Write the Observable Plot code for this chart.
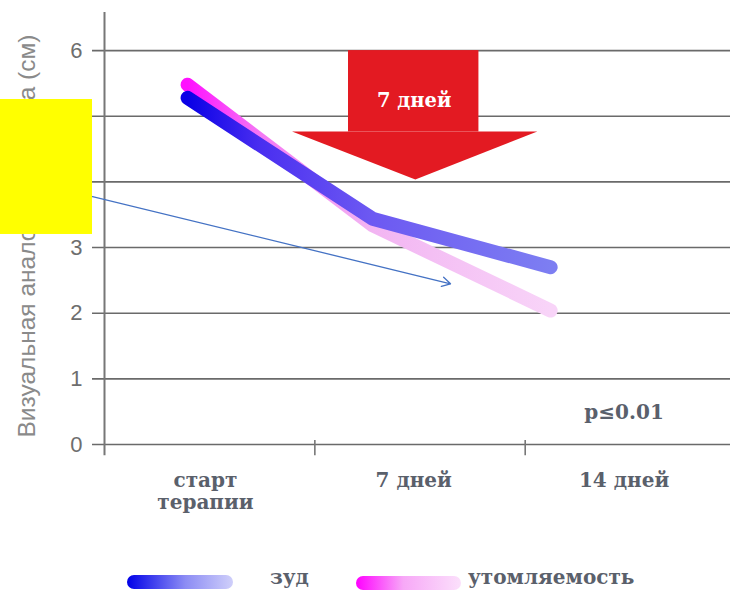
<!DOCTYPE html>
<html><head><meta charset="utf-8">
<script src="https://cdn.jsdelivr.net/npm/d3@7"></script>
<script src="https://cdn.jsdelivr.net/npm/@observablehq/plot@0.6"></script>
<style>
body{margin:0;background:#fff;}
#wrap{position:relative;width:730px;height:593px;overflow:hidden;}
.leg{position:absolute;font-family:"DejaVu Serif",serif;font-size:20px;font-weight:bold;color:#5a606b;}
.pill{position:absolute;height:14px;border-radius:7px;}
</style>
</head><body>
<div id="wrap"></div>
<script>
// ---- data ----
const categories = ["старт\nтерапии", "7 дней", "14 дней"];
const categoryX = [0.48, 1.47, 2.47];
const timeX = [0.395, 1.274, 2.121];
const itch = [5.28, 3.44, 2.70];      // зуд
const fatigue = [5.48, 3.34, 2.04];   // утомляемость
const yTicks = [0, 1, 2, 3, 4, 5, 6];
const xTicks = [0, 1, 2];
const yLabel = "Визуальная аналоговая шкала (см)";
const arrowLabel = "7 дней";
const pLabel = "p≤0.01";
const legendNames = ["зуд", "утомляемость"];
// red arrow shape (data units)
const arrowBodyX = [1.16, 1.78], arrowBodyY = [4.76, 6.0];
const arrowHeadX = [0.894, 1.48, 2.06], arrowHeadY = [4.76, 4.03, 4.76];
// annotation arrow & box
const noteArrow = {x1: -0.257, y1: 3.933, x2: 1.645, y2: 2.448};
const noteBox = {x1: -0.4945, x2: -0.057, y1: 3.199, y2: 5.255};

const itchData = timeX.map((x, i) => ({x, y: itch[i]}));
const fatigueData = timeX.map((x, i) => ({x, y: fatigue[i]}));
const headData = arrowHeadX.map((x, i) => ({x, y1: arrowHeadY[i], y2: arrowBodyY[0]}));
const catData = categories.map((c, i) => ({x: categoryX[i], label: c}));

const serif = "DejaVu Serif, serif";
const sans = "Liberation Sans, Arial, sans-serif";

const svg = Plot.plot({
  width: 730, height: 560,
  marginLeft: 104, marginRight: 0, marginTop: 12, marginBottom: 116,
  x: {domain: [0, 2.976], axis: null},
  y: {domain: [0, 6.58], axis: null},
  style: {background: "#fff", overflow: "visible"},
  marks: [
    Plot.ruleY(yTicks, {x1: -0.057, x2: 2.976, stroke: "#6a6a6a", strokeWidth: 1.6}),
    Plot.ruleX([0], {y1: -0.17, y2: 6.58, stroke: "#777", strokeWidth: 2}),
    Plot.ruleX(xTicks.slice(1), {y1: -0.17, y2: 0.06, stroke: "#777", strokeWidth: 1.6}),
    Plot.text(yTicks, {x: 0, y: d => d, text: d => String(d), dx: -22, textAnchor: "end", fontFamily: sans, fontSize: 22, fill: "#6e6e6e"}),
    Plot.text([yLabel], {x: -0.366, y: 0.107, rotate: -90, textAnchor: "start", fontFamily: sans, fontSize: 24.5, fill: "#8a8a8a"}),
    Plot.text(catData, {x: "x", y: 0, text: "label", lineAnchor: "top", dy: 27, fontFamily: serif, fontSize: 20, fontWeight: "bold", lineHeight: 1.1, fill: "#5a606b"}),
    Plot.text([pLabel], {x: 2.47, y: 0.49, fontFamily: serif, fontSize: 20, fontWeight: "bold", fill: "#5a606b"}),
    // red arrow
    Plot.rect([0], {x1: arrowBodyX[0], x2: arrowBodyX[1], y1: arrowBodyY[0], y2: arrowBodyY[1], fill: "#e31a22"}),
    Plot.areaY(headData, {x: "x", y1: "y1", y2: "y2", fill: "#e31a22"}),
    Plot.text([arrowLabel], {x: 1.472, y: 5.24, fontFamily: serif, fontSize: 19.5, fontWeight: "bold", fill: "#fff"}),
    // series
    Plot.line(fatigueData, {x: "x", y: "y", stroke: "url(#gPink)", strokeWidth: 14, strokeLinecap: "round", strokeLinejoin: "round"}),
    Plot.line(itchData, {x: "x", y: "y", stroke: "url(#gBlue)", strokeWidth: 14, strokeLinecap: "round", strokeLinejoin: "round"}),
    // annotation
    Plot.arrow([noteArrow], {x1: "x1", y1: "y1", x2: "x2", y2: "y2", stroke: "#4472c4", strokeWidth: 1.3, headLength: 11}),
    Plot.rect([noteBox], {x1: "x1", x2: "x2", y1: "y1", y2: "y2", fill: "#ffff00"})
  ]
});

const defs = d3.select(svg).insert("defs", ":first-child");
function grad(id, stops) {
  const g = defs.append("linearGradient").attr("id", id).attr("x1", "0").attr("x2", "1").attr("y1", "0").attr("y2", "0");
  stops.forEach(([o, c]) => g.append("stop").attr("offset", o).attr("stop-color", c));
}
grad("gBlue", [["0", "#0a00e6"], ["0.2", "#4a2ef0"], ["0.5", "#6c58f2"], ["1", "#7d7ef2"]]);
grad("gPink", [["0", "#ff10ff"], ["0.2", "#f478f4"], ["0.5", "#f2b4f2"], ["1", "#f8d4f8"]]);

const wrap = document.getElementById("wrap");
wrap.appendChild(svg);
wrap.insertAdjacentHTML("beforeend", `
  <div class="pill" style="left:127px;top:575px;width:106px;background:linear-gradient(to right,#0000e8,#8c8cf4 55%,#cfcffa)"></div>
  <div class="leg" style="left:270px;top:565px">${legendNames[0]}</div>
  <div class="pill" style="left:356px;top:576px;width:105px;background:linear-gradient(to right,#ff00ff,#f7a8f7 45%,#fbe0fb)"></div>
  <div class="leg" style="left:468px;top:565px">${legendNames[1]}</div>
`);
</script>
</body></html>
